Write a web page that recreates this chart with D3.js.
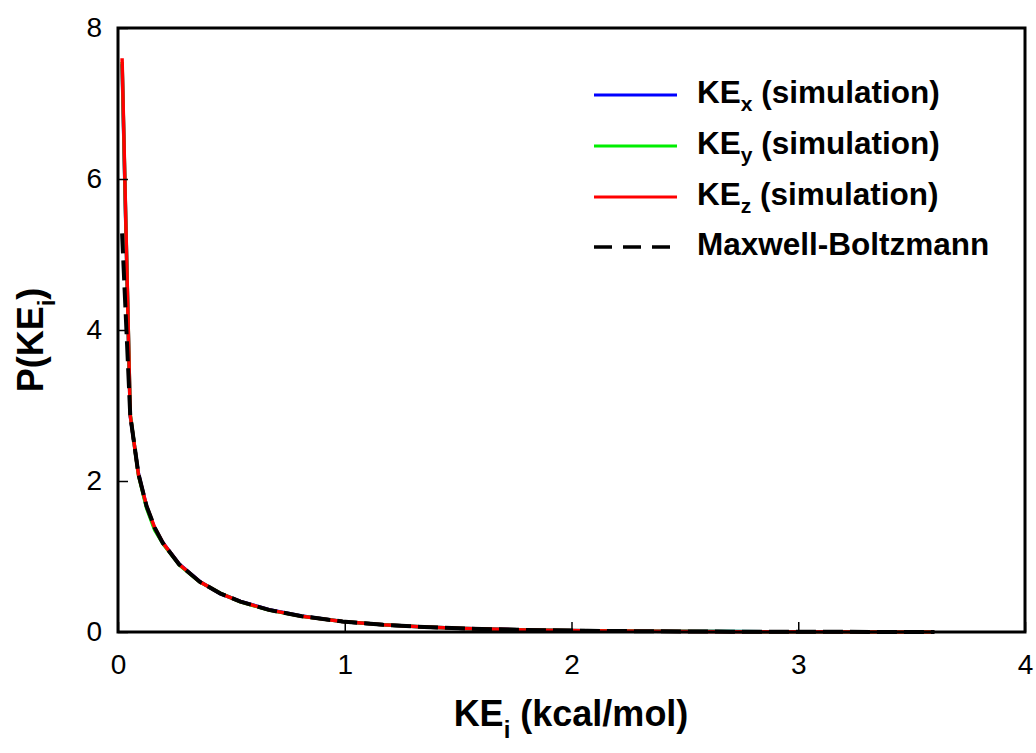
<!DOCTYPE html>
<html>
<head>
<meta charset="utf-8">
<script src="https://cdn.jsdelivr.net/npm/d3@7/dist/d3.min.js"></script>
<style>
  html, body { margin: 0; padding: 0; background: #fff; }
  svg { display: block; font-family: "Liberation Sans", Arial, sans-serif; }
</style>
</head>
<body>
<div id="chart"></div>
<script>
// ── Data ────────────────────────────────────────────────────────────────────

const keValues = [0.018, 0.054, 0.090, 0.126, 0.162, 0.198, 0.270, 0.360, 0.450, 0.540,
                  0.666, 0.810, 0.990, 1.170, 1.350, 1.530, 1.800, 2.070, 2.340, 2.700,
                  3.060, 3.420, 3.600];

const keX = [7.52, 2.86, 2.10, 1.66, 1.37, 1.18, 0.90, 0.67, 0.51, 0.405,
             0.295, 0.212, 0.140, 0.096, 0.066, 0.046, 0.027, 0.016, 0.0095, 0.005,
             0.0026, 0.0013, 0.001];
const keY = [7.55, 2.88, 2.08, 1.64, 1.35, 1.17, 0.89, 0.665, 0.515, 0.40,
             0.29, 0.208, 0.139, 0.095, 0.065, 0.045, 0.026, 0.016, 0.009, 0.005,
             0.0025, 0.0013, 0.001];
const keZ = [7.60, 2.87, 2.09, 1.67, 1.38, 1.18, 0.895, 0.667, 0.512, 0.402,
             0.293, 0.209, 0.140, 0.095, 0.065, 0.045, 0.027, 0.016, 0.0094, 0.0048,
             0.0025, 0.0013, 0.001];
const maxwellBoltzmann = [5.28, 2.87, 2.095, 1.667, 1.383, 1.178, 0.894, 0.666, 0.512, 0.402,
                          0.293, 0.209, 0.1396, 0.0949, 0.0653, 0.0454, 0.0266, 0.0158, 0.0094, 0.0048,
                          0.0025, 0.0013, 0.001];

const xTicks = [0, 1, 2, 3, 4];
const yTicks = [0, 2, 4, 6, 8];

const series = [
    { name: 'x', values: keX, color: '#0000ff' },
    { name: 'y', values: keY, color: '#00ee00' },
    { name: 'z', values: keZ, color: '#ff0000' }
];

// ── Layout ─────────────────────────────────────────────────────────────────

const W = 1036, H = 753;
const M = { top: 28, right: 11, bottom: 121, left: 118 };
const iW = W - M.left - M.right;
const iH = H - M.top - M.bottom;

const x = d3.scaleLinear().domain([0, 4]).range([0, iW]);
const y = d3.scaleLinear().domain([0, 8]).range([iH, 0]);

const svg = d3.select('#chart').append('svg')
    .attr('width', W)
    .attr('height', H);

const g = svg.append('g').attr('transform', `translate(${M.left},${M.top})`);

const line = d3.line()
    .x(d => x(d[0]))
    .y(d => y(d[1]));

// simulation histograms
series.forEach(s => {
    g.append('path')
        .datum(keValues.map((k, i) => [k, s.values[i]]))
        .attr('fill', 'none')
        .attr('stroke', s.color)
        .attr('stroke-width', 3.5)
        .attr('stroke-linejoin', 'round')
        .attr('d', line);
});

// Maxwell-Boltzmann reference
g.append('path')
    .datum(keValues.map((k, i) => [k, maxwellBoltzmann[i]]))
    .attr('fill', 'none')
    .attr('stroke', '#000')
    .attr('stroke-width', 4)
    .attr('stroke-dasharray', '20,7')
    .attr('d', line);

// ── Axes / frame ───────────────────────────────────────────────────────────

function styleAxis(sel) {
    sel.select('.domain').remove();
    sel.selectAll('.tick line').attr('stroke', '#000').attr('stroke-width', 1.5);
    sel.selectAll('.tick text')
        .attr('fill', '#000')
        .attr('font-size', 28)
        .attr('font-family', '"Liberation Sans", Arial, sans-serif');
}

g.append('g')
    .attr('transform', `translate(0,${iH})`)
    .call(d3.axisBottom(x).tickValues(xTicks).tickSize(-10).tickPadding(22).tickFormat(d3.format('d')))
    .call(styleAxis);

g.append('g')
    .call(d3.axisLeft(y).tickValues(yTicks).tickSize(-10).tickPadding(16).tickFormat(d3.format('d')))
    .call(styleAxis);

g.append('rect')
    .attr('x', 0).attr('y', 0)
    .attr('width', iW).attr('height', iH)
    .attr('fill', 'none')
    .attr('stroke', '#000')
    .attr('stroke-width', 3);

// ── Axis labels ────────────────────────────────────────────────────────────

const xl = svg.append('text')
    .attr('x', 571)
    .attr('y', 726)
    .attr('text-anchor', 'middle')
    .attr('font-size', 36)
    .attr('font-weight', 'bold');
xl.append('tspan').text('KE');
xl.append('tspan').attr('font-size', 24).attr('dy', 12).text('i');
xl.append('tspan').attr('dy', -12).text(' (kcal/mol)');

const yl = svg.append('text')
    .attr('transform', 'translate(43,340) rotate(-90)')
    .attr('text-anchor', 'middle')
    .attr('font-size', 36)
    .attr('font-weight', 'bold');
yl.append('tspan').text('P(KE');
yl.append('tspan').attr('font-size', 24).attr('dy', 12).text('i');
yl.append('tspan').attr('dy', -12).text(')');

// ── Legend ─────────────────────────────────────────────────────────────────

const legendRows = [...series.map(s => ({ ...s, dashed: false })),
                    { name: null, color: '#000', dashed: true }];
const legendY = [95, 146, 197, 247];

legendRows.forEach((r, i) => {
    const ly = legendY[i];
    svg.append('line')
        .attr('x1', 594).attr('x2', r.dashed ? 680 : 677)
        .attr('y1', ly).attr('y2', ly)
        .attr('stroke', r.color)
        .attr('stroke-width', r.dashed ? 3.5 : 3)
        .attr('stroke-dasharray', r.dashed ? '18,11' : null);

    const t = svg.append('text')
        .attr('x', 697)
        .attr('y', ly + 8)
        .attr('font-size', 31.5)
        .attr('font-weight', 'bold');
    if (r.dashed) {
        t.text('Maxwell-Boltzmann');
    } else {
        t.append('tspan').text('KE');
        t.append('tspan').attr('font-size', 21).attr('dy', 8).text(r.name);
        t.append('tspan').attr('dy', -8).text(' (simulation)');
    }
});
</script>
</body>
</html>
